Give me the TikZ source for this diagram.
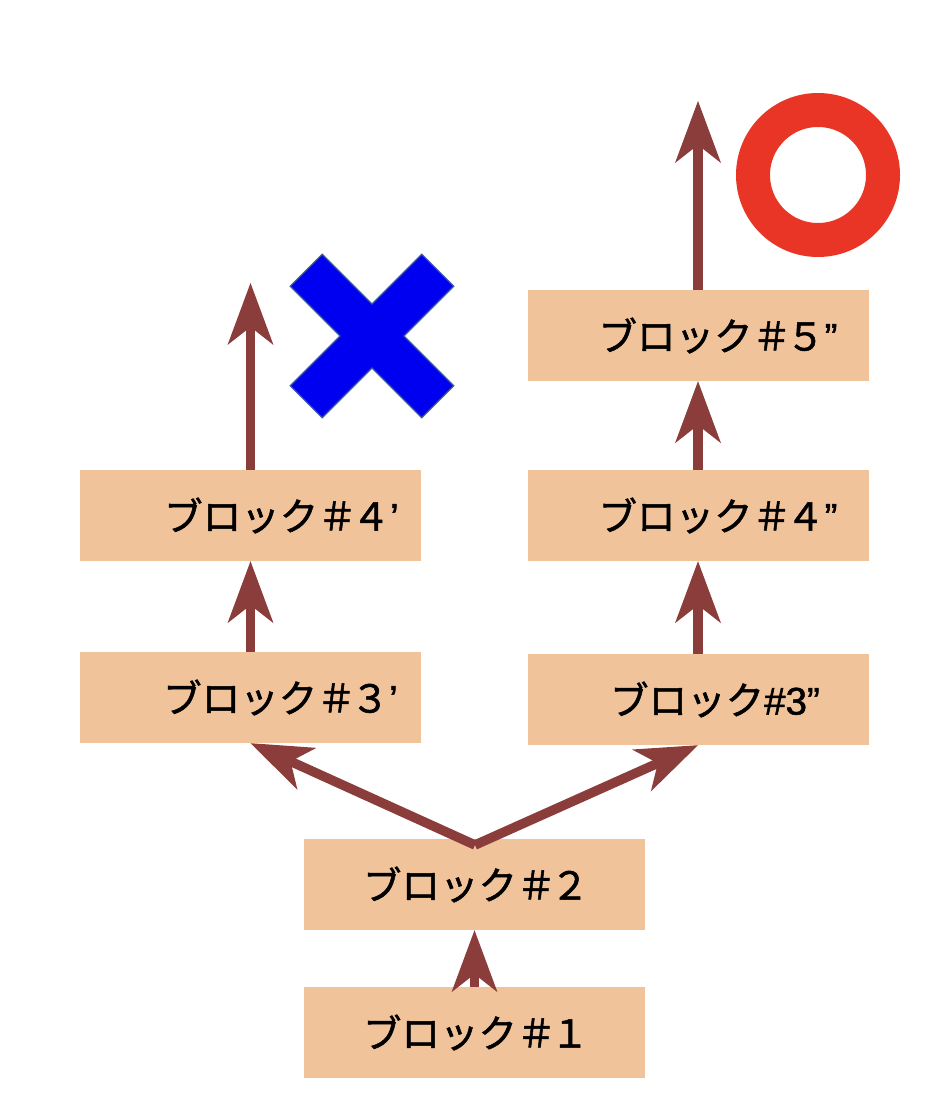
\documentclass[tikz,border=0pt]{standalone}
\usepackage{fontspec}
\newfontfamily\jp{Noto Sans CJK JP}[FakeBold=1.3]
\newfontfamily\lat{Liberation Sans}[FakeBold=1.3]
\usetikzlibrary{arrows.meta}
\definecolor{boxfill}{RGB}{241,195,155}
\definecolor{arrcol}{RGB}{138,61,58}
\definecolor{ringred}{RGB}{233,53,38}
\definecolor{crossblue}{RGB}{0,0,240}
\definecolor{crossedge}{RGB}{60,90,160}
\newcommand{\hsh}{＃\kern-5pt}
\tikzset{
  blk/.style={fill=boxfill, draw=none, minimum width=341pt, minimum height=91pt,
    inner sep=0pt, font=\fontsize{38.5}{42}\selectfont\jp},
  arr/.style={draw=arrcol, line width=9.5pt,
    -{Stealth[length=62pt, width=46pt, inset=18pt, line width=0pt]}},
}
\begin{document}
\begin{tikzpicture}[x=1pt,y=-1pt]
\useasboundingbox (0,0) rectangle (950,1094);
% blocks
\node[blk] (b1) at (474.5,1032.5) {\hspace*{3pt}ブロック\hsh １};
\node[blk] (b2) at (474.5,884.5) {\hspace*{3pt}ブロック\hsh ２};
\node[blk] (b3p) at (250.5,697.5) {\hspace*{60pt}ブロック\hsh ３{\lat ’}};
\node[blk] (b3pp) at (698,699.5) {\hspace*{34pt}ブロック{\lat \#3”}};
\node[blk] (b4p) at (250.5,515.5) {\hspace*{62pt}ブロック\hsh ４{\lat ’}};
\node[blk] (b4pp) at (698,515.5) {\hspace*{40pt}ブロック\hsh ４{\lat ”}};
\node[blk] (b5pp) at (698,335.5) {\hspace*{40pt}ブロック\hsh ５{\lat ”}};
% free ends
\coordinate (apex) at (475,845);
\coordinate (top4p) at (250.5,283);
\coordinate (top5pp) at (698,101);
% connectors
\draw[arr] (b1.north) -- (b2.south);
\draw[arr] (apex) -- (b3p.south);
\draw[arr] (apex) -- (b3pp.south);
\draw[arr] (b3p.north) -- (b4p.south);
\draw[arr] (b3pp.north) -- (b4pp.south);
\draw[arr] (b4pp.north) -- (b5pp.south);
\draw[arr] (b4p.north) -- (top4p);
\draw[arr] (b5pp.north) -- (top5pp);
% ring
\draw[ringred, line width=34pt] (818,175) circle (65);
% cross
\begin{scope}[shift={(372,336)}, rotate=45]
\filldraw[fill=crossblue, draw=crossedge, line width=1.2pt]
  (22.6,93) -- (22.6,22.6) -- (93,22.6) -- (93,-22.6) -- (22.6,-22.6) -- (22.6,-93)
  -- (-22.6,-93) -- (-22.6,-22.6) -- (-93,-22.6) -- (-93,22.6) -- (-22.6,22.6) -- (-22.6,93) -- cycle;
\end{scope}
\end{tikzpicture}
\end{document}
